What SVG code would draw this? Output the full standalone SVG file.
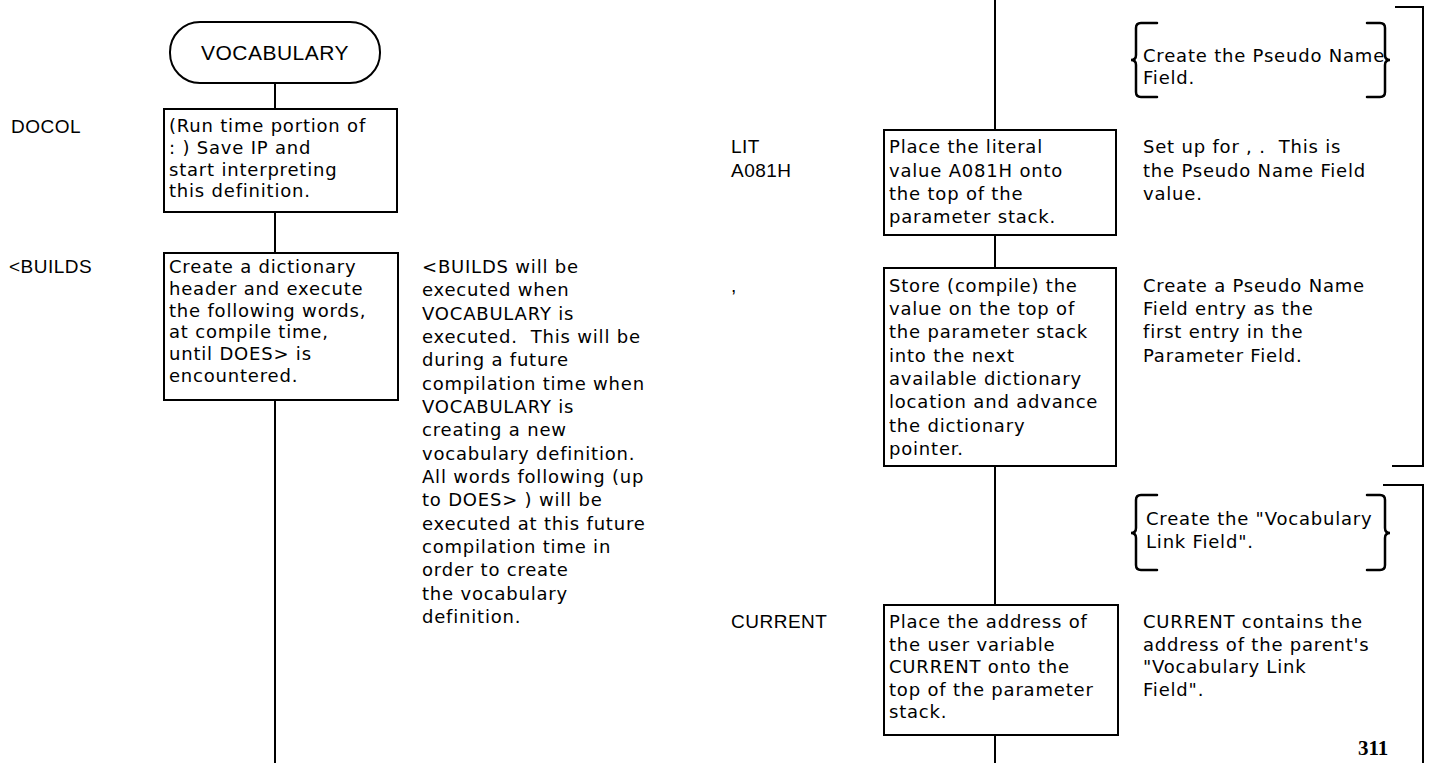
<svg xmlns="http://www.w3.org/2000/svg" width="1429" height="763" viewBox="0 0 1429 763">
<style>
.bg{fill:#fff}
.box{fill:#fff;stroke:#000;stroke-width:2}
.ln{fill:none;stroke:#000;stroke-width:2}
.br{fill:none;stroke:#000;stroke-width:2.5;stroke-linecap:round}
text{font-family:"DejaVu Sans","Liberation Sans",sans-serif;font-size:18px;fill:#000;letter-spacing:0.8px;white-space:pre;dominant-baseline:middle}
.lbl{font-family:"Liberation Sans",Arial,sans-serif;font-size:19px;letter-spacing:0.5px}
.term{font-family:"Liberation Sans",Arial,sans-serif;font-size:21px;letter-spacing:0.5px}
.pg{font-family:"Liberation Serif",serif;font-weight:bold;font-size:21px;letter-spacing:0}
</style>
<rect class="bg" x="0" y="0" width="1429" height="763"/>
<g id="connectors">
<line class="ln" x1="275" y1="83" x2="275" y2="109"/>
<line class="ln" x1="275" y1="212" x2="275" y2="253"/>
<line class="ln" x1="275" y1="400" x2="275" y2="763"/>
<line class="ln" x1="995" y1="0" x2="995" y2="130"/>
<line class="ln" x1="995" y1="235" x2="995" y2="268"/>
<line class="ln" x1="995" y1="466" x2="995" y2="605"/>
<line class="ln" x1="995" y1="735" x2="995" y2="763"/>
</g>
<g id="vocabulary">
<rect class="box" x="170" y="22" width="210" height="61" rx="30"/>
<text class="term" x="275" y="54" text-anchor="middle">VOCABULARY</text>
</g>
<g id="docol">
<text class="lbl" x="11" y="128">DOCOL</text>
<rect class="box" x="164" y="109" width="233" height="103"/>
<text x="169" y="127">(Run time portion of</text>
<text x="169" y="149">: ) Save IP and</text>
<text x="169" y="171">start interpreting</text>
<text x="169" y="192">this definition.</text>
</g>
<g id="builds">
<text class="lbl" x="9" y="268">&lt;BUILDS</text>
<rect class="box" x="164" y="253" width="234" height="147"/>
<text x="169" y="268">Create a dictionary</text>
<text x="169" y="290">header and execute</text>
<text x="169" y="312">the following words,</text>
<text x="169" y="333">at compile time,</text>
<text x="169" y="355">until DOES&gt; is</text>
<text x="169" y="377">encountered.</text>
</g>
<g id="builds-note">
<text x="422" y="268">&lt;BUILDS will be</text>
<text x="422" y="291">executed when</text>
<text x="422" y="315">VOCABULARY is</text>
<text x="422" y="338">executed.  This will be</text>
<text x="422" y="361">during a future</text>
<text x="422" y="385">compilation time when</text>
<text x="422" y="408">VOCABULARY is</text>
<text x="422" y="431">creating a new</text>
<text x="422" y="455">vocabulary definition.</text>
<text x="422" y="478">All words following (up</text>
<text x="422" y="501">to DOES&gt; ) will be</text>
<text x="422" y="525">executed at this future</text>
<text x="422" y="548">compilation time in</text>
<text x="422" y="571">order to create</text>
<text x="422" y="595">the vocabulary</text>
<text x="422" y="618">definition.</text>
</g>
<g id="brace-pseudo-name">
<path class="br" d="M1157,23 H1141 Q1136,23 1136,28 V55 Q1136,60 1131,60 Q1136,60 1136,65 V92 Q1136,97 1141,97 H1157"/>
<path class="br" d="M1367,23 H1380 Q1385,23 1385,28 V55 Q1385,60 1390,60 Q1385,60 1385,65 V92 Q1385,97 1380,97 H1367"/>
<text x="1143" y="57">Create the Pseudo Name</text>
<text x="1143" y="79">Field.</text>
</g>
<g id="bracket-1">
<path class="ln" d="M1395,7 H1423 V466 H1392"/>
</g>
<g id="lit">
<text class="lbl" x="731" y="148">LIT</text>
<text class="lbl" x="731" y="172">A081H</text>
<rect class="box" x="884" y="130" width="232" height="105"/>
<text x="889" y="148">Place the literal</text>
<text x="889" y="172">value A081H onto</text>
<text x="889" y="195">the top of the</text>
<text x="889" y="218">parameter stack.</text>
<text x="1143" y="148">Set up for , .  This is</text>
<text x="1143" y="172">the Pseudo Name Field</text>
<text x="1143" y="195">value.</text>
</g>
<g id="comma">
<text class="lbl" x="731" y="287">,</text>
<rect class="box" x="884" y="268" width="232" height="198"/>
<text x="889" y="287">Store (compile) the</text>
<text x="889" y="310">value on the top of</text>
<text x="889" y="333">the parameter stack</text>
<text x="889" y="357">into the next</text>
<text x="889" y="380">available dictionary</text>
<text x="889" y="403">location and advance</text>
<text x="889" y="427">the dictionary</text>
<text x="889" y="450">pointer.</text>
<text x="1143" y="287">Create a Pseudo Name</text>
<text x="1143" y="310">Field entry as the</text>
<text x="1143" y="333">first entry in the</text>
<text x="1143" y="357">Parameter Field.</text>
</g>
<g id="brace-vocab-link">
<path class="br" d="M1157,495 H1141 Q1136,495 1136,500 V528 Q1136,533 1131,533 Q1136,533 1136,538 V565 Q1136,570 1141,570 H1157"/>
<path class="br" d="M1367,495 H1380 Q1385,495 1385,500 V528 Q1385,533 1390,533 Q1385,533 1385,538 V565 Q1385,570 1380,570 H1367"/>
<text x="1146" y="520">Create the "Vocabulary</text>
<text x="1146" y="543">Link Field".</text>
</g>
<g id="bracket-2">
<path class="ln" d="M1383,485 H1423 V763"/>
</g>
<g id="current">
<text class="lbl" x="731" y="623">CURRENT</text>
<rect class="box" x="884" y="605" width="234" height="130"/>
<text x="889" y="623">Place the address of</text>
<text x="889" y="646">the user variable</text>
<text x="889" y="668">CURRENT onto the</text>
<text x="889" y="691">top of the parameter</text>
<text x="889" y="713">stack.</text>
<text x="1143" y="623">CURRENT contains the</text>
<text x="1143" y="646">address of the parent's</text>
<text x="1143" y="668">"Vocabulary Link</text>
<text x="1143" y="691">Field".</text>
</g>
<text class="pg" x="1358" y="750">311</text>
</svg>
